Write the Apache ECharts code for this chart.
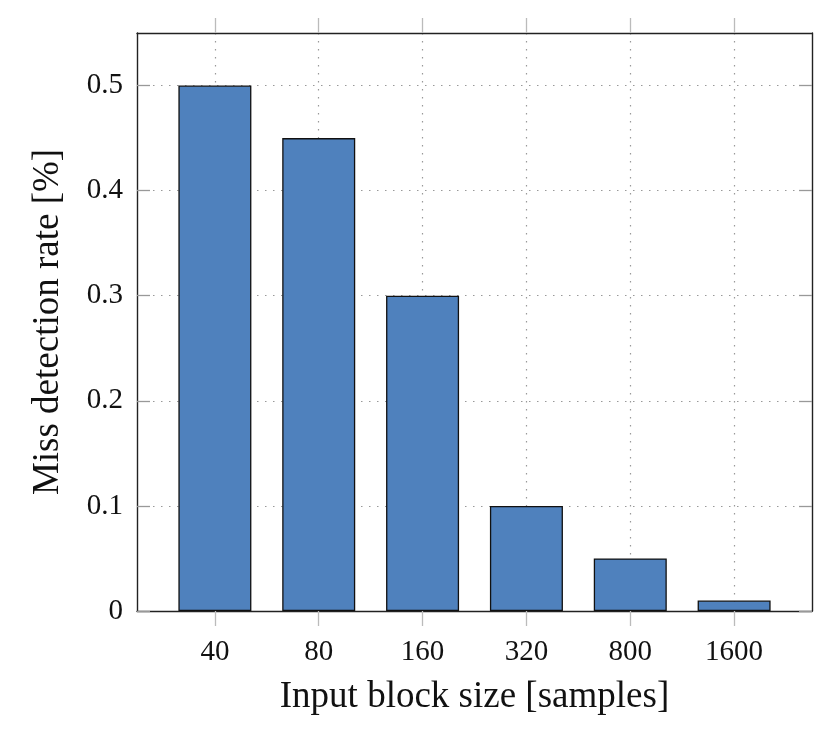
<!DOCTYPE html>
<html><head><meta charset="utf-8">
<script src="https://cdn.jsdelivr.net/npm/echarts@6/dist/echarts.min.js"></script>
<style>html,body{margin:0;padding:0;background:#fff}#c{width:830px;height:747px}</style>
</head><body><div id="c"></div>
<script>
const categories = ['40', '80', '160', '320', '800', '1600'];
const missRate = [0.5, 0.45, 0.3, 0.1, 0.05, 0.01];
const yTicks = [0, 0.1, 0.2, 0.3, 0.4, 0.5];
const yTickLabels = ['0', '0.1', '0.2', '0.3', '0.4', '0.5'];

const positions = categories.map((_, i) => i);
const font = 'Liberation Serif';
const chart = echarts.init(document.getElementById('c'), null, {renderer: 'canvas'});
const gridLine = {show: true, lineStyle: {color: '#999', width: 1.2, type: [1.5, 6.5]}};
const frameLine = {show: true, onZero: false, lineStyle: {color: '#222', width: 1.4}};
chart.setOption({
  animation: false,
  grid: {left: 137, right: 18, top: 33, bottom: 136, containLabel: false},
  xAxis: [{
    type: 'value', min: -0.75, max: 5.75, position: 'bottom',
    axisLine: frameLine,
    axisTick: {show: true, inside: false, length: 15, customValues: positions, lineStyle: {color: '#bbb', width: 1.3}},
    axisLabel: {show: true, customValues: positions, margin: 27, fontFamily: font, fontSize: 29, color: '#111',
      formatter: v => categories[Math.round(v)]},
    splitLine: gridLine,
    name: 'Input block size [samples]', nameLocation: 'middle', nameGap: 68,
    nameTextStyle: {fontFamily: font, fontSize: 37, color: '#111'}
  }, {
    type: 'value', min: -0.75, max: 5.75, position: 'top',
    axisLine: frameLine,
    axisTick: {show: true, inside: false, length: 15, customValues: positions, lineStyle: {color: '#bbb', width: 1.3}},
    axisLabel: {show: false},
    splitLine: {show: false}
  }],
  yAxis: [{
    type: 'value', min: 0, max: 0.55, position: 'left',
    axisLine: frameLine,
    axisTick: {show: true, inside: true, length: 13, customValues: yTicks, lineStyle: {color: '#999', width: 1.3}},
    axisLabel: {show: true, customValues: yTicks, margin: 14, fontFamily: font, fontSize: 29, color: '#111',
      formatter: v => yTickLabels[Math.round(v * 10)]},
    splitLine: gridLine,
    name: 'Miss detection rate [%]', nameLocation: 'middle', nameGap: 70,
    nameTextStyle: {fontFamily: font, fontSize: 37, color: '#111'}
  }, {
    type: 'value', min: 0, max: 0.55, position: 'right',
    axisLine: frameLine,
    axisTick: {show: true, inside: true, length: 13, customValues: yTicks, lineStyle: {color: '#999', width: 1.3}},
    axisLabel: {show: false},
    splitLine: {show: false}
  }],
  series: [{
    type: 'bar', xAxisIndex: 0, yAxisIndex: 0,
    data: missRate.map((v, i) => [positions[i], v]),
    barWidth: 73,
    itemStyle: {color: '#4f81bd', borderColor: '#111', borderWidth: 1.3}
  }]
});
</script></body></html>
